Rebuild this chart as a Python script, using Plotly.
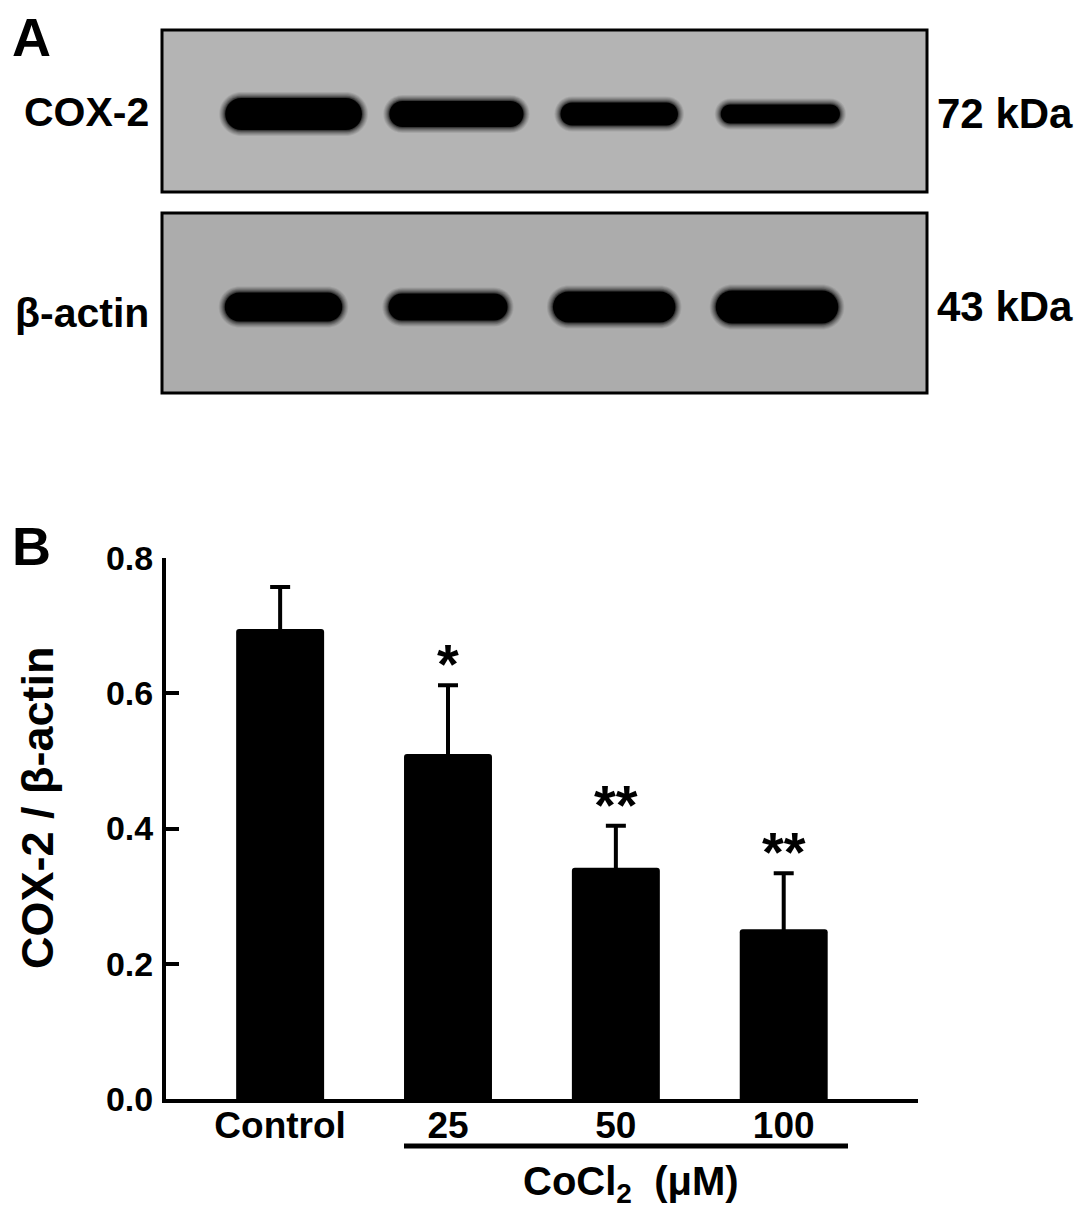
import plotly.graph_objects as go

# ---- data ----
groups = ["Control", "25", "50", "100"]
ratio_mean = [0.695, 0.510, 0.342, 0.251]
ratio_sem = [0.062, 0.102, 0.062, 0.083]
signif = ["", "*", "**", "**"]

# western blot bands (lane centre, band length in lane units, band thickness)
cox2_lane = [0.08, 1.05, 2.02, 2.98]
cox2_len = [0.815, 0.80, 0.70, 0.71]
cox2_thick = [32, 26, 23, 19]
actin_lane = [0.02, 1.00, 1.99, 2.96]
actin_len = [0.70, 0.71, 0.73, 0.73]
actin_thick = [29, 27, 31, 33]

# page body has an 8px margin, so the figure is drawn a little smaller
PAD = 8
W, H = 1087 - 2 * PAD, 1217 - 2 * PAD
FONT = "Liberation Sans, Arial, sans-serif"


def px_x(p):
    return (p - PAD) / W


def px_y(p):
    return 1 - (p - PAD) / H


# bar axis geometry (pixels of the reference)
X_L, X_R = 166, 918
Y_TOP, Y_BOT = 558, 1099
X_RANGE = [-0.68, 3.80]


def lane_at(p):
    return X_RANGE[0] + (p - X_L) / (X_R - X_L) * (X_RANGE[1] - X_RANGE[0])


units_per_px = (X_RANGE[1] - X_RANGE[0]) / (X_R - X_L)

fig = go.Figure()

fig.add_trace(go.Bar(
    x=list(range(len(groups))), y=ratio_mean, width=0.524,
    marker=dict(color="black", line=dict(width=0), cornerradius=3),
    error_y=dict(type="data", array=ratio_sem, symmetric=True,
                 color="black", thickness=4, width=10),
    xaxis="x", yaxis="y", showlegend=False,
))

# ---- blot panels ----
BOX_L, BOX_R = 162, 927
blots = [
    dict(top=30, bot=192, fill="#b4b4b4", lanes=cox2_lane, lens=cox2_len, thick=cox2_thick,
         row=78, name="COX-2", kda="72 kDa", label_y=112, kda_y=114),
    dict(top=213, bot=393, fill="#acacac", lanes=actin_lane, lens=actin_len, thick=actin_thick,
         row=86, name="β-actin", kda="43 kDa", label_y=313, kda_y=306),
]


def stadium(cx, cy, length, thick, grow):
    ry = thick / 2 + grow
    rx = ry * units_per_px
    x0 = cx - length / 2 - grow * units_per_px
    x1 = cx + length / 2 + grow * units_per_px
    y0, y1 = cy - ry, cy + ry
    k = 0.5523
    return (f"M {x0 + rx},{y0} L {x1 - rx},{y0} "
            f"C {x1 - rx + k * rx},{y0} {x1},{cy - k * ry} {x1},{cy} "
            f"C {x1},{cy + k * ry} {x1 - rx + k * rx},{y1} {x1 - rx},{y1} "
            f"L {x0 + rx},{y1} "
            f"C {x0 + rx - k * rx},{y1} {x0},{cy + k * ry} {x0},{cy} "
            f"C {x0},{cy - k * ry} {x0 + rx - k * rx},{y0} {x0 + rx},{y0} Z")


shapes = []
annotations = []
axes = {}
for i, b in enumerate(blots):
    n = i + 2
    axes[f"xaxis{n}"] = dict(domain=[px_x(BOX_L), px_x(BOX_R)], range=[lane_at(BOX_L), lane_at(BOX_R)],
                             visible=False, anchor=f"y{n}", automargin=False)
    axes[f"yaxis{n}"] = dict(domain=[px_y(b["bot"]), px_y(b["top"])], range=[0, b["bot"] - b["top"]],
                             visible=False, anchor=f"x{n}", automargin=False)
    shapes.append(dict(type="rect", xref=f"x{n} domain", yref=f"y{n} domain", x0=0, x1=1, y0=0, y1=1,
                       fillcolor=b["fill"], line=dict(color="black", width=3), layer="above"))
    for cx, ln, th in zip(b["lanes"], b["lens"], b["thick"]):
        # soft edge: a few faint outer layers, then the solid core
        for grow, op in [(6, 0.08), (5, 0.10), (4, 0.12), (3, 0.16), (2, 0.22), (1, 0.35), (0, 1.0)]:
            shapes.append(dict(type="path", xref=f"x{n}", yref=f"y{n}",
                               path=stadium(cx, b["row"], ln, th, grow),
                               fillcolor="black", opacity=op, line=dict(width=0), layer="above"))
    annotations.append(dict(text=b["name"], x=px_x(151), y=px_y(b["label_y"]), xref="paper", yref="paper",
                            xanchor="right", yanchor="middle", showarrow=False,
                            font=dict(family=FONT, size=41, color="black", weight="bold")))
    annotations.append(dict(text=b["kda"], x=px_x(935), y=px_y(b["kda_y"]), xref="paper", yref="paper",
                            xanchor="left", yanchor="middle", showarrow=False,
                            font=dict(family=FONT, size=42, color="black", weight="bold")))

# significance stars
for i, s in enumerate(signif):
    if s:
        annotations.append(dict(text=s, x=i, y=ratio_mean[i] + ratio_sem[i], xref="x", yref="y",
                                yanchor="bottom", yshift=-12, showarrow=False,
                                font=dict(family=FONT, size=56, color="black", weight="bold")))

# panel letters, axis titles
for letter, yp in [("A", 37), ("B", 546)]:
    annotations.append(dict(text=letter, x=px_x(31), y=px_y(yp), xref="paper", yref="paper",
                            xanchor="center", yanchor="middle", showarrow=False,
                            font=dict(family=FONT, size=54, color="black", weight="bold")))
annotations.append(dict(text="COX-2 / β-actin", x=px_x(37), y=px_y(808), xref="paper", yref="paper",
                        textangle=-90, xanchor="center", yanchor="middle", showarrow=False,
                        font=dict(family=FONT, size=45, color="black", weight="bold")))
annotations.append(dict(text="CoCl<sub>2</sub>  (μM)", x=lane_at(631), y=px_y(1184), xref="x", yref="paper",
                        xanchor="center", yanchor="middle", showarrow=False,
                        font=dict(family=FONT, size=40, color="black", weight="bold")))
shapes.append(dict(type="line", xref="x", yref="paper", x0=lane_at(404), x1=lane_at(848),
                   y0=px_y(1146), y1=px_y(1146), line=dict(color="black", width=5)))

fig.update_layout(
    width=W, height=H, margin=dict(l=0, r=0, t=0, b=0, pad=0, autoexpand=False),
    paper_bgcolor="white", plot_bgcolor="white",
    xaxis=dict(domain=[px_x(X_L), px_x(X_R)], range=X_RANGE, showline=True, linecolor="black", linewidth=4,
               tickvals=list(range(len(groups))), ticktext=groups, ticks="", showgrid=False, zeroline=False,
               ticklabelstandoff=-9, automargin=False,
               tickfont=dict(family=FONT, size=37, color="black", weight="bold"), anchor="y"),
    yaxis=dict(domain=[px_y(Y_BOT), px_y(Y_TOP)], range=[0, 0.8], showline=True, linecolor="black",
               linewidth=4, tickvals=[0, 0.2, 0.4, 0.6, 0.8], ticktext=["0.0", "0.2", "0.4", "0.6", "0.8"],
               ticks="inside", ticklen=13, tickwidth=4, tickcolor="black", showgrid=False, zeroline=False,
               ticklabelstandoff=2, automargin=False,
               tickfont=dict(family=FONT, size=34, color="black", weight="bold"), anchor="x"),
    shapes=shapes, annotations=annotations,
    **axes,
)

fig.write_html("out.html")
